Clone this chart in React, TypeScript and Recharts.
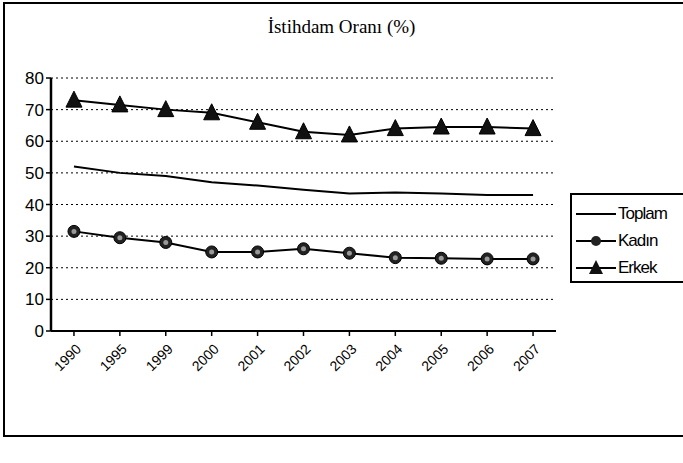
import React from "react";
import {
  LineChart,
  Line,
  XAxis,
  YAxis,
  CartesianGrid,
} from "recharts";

// İstihdam oranı, yıllara göre (%)
const years = ["1990", "1995", "1999", "2000", "2001", "2002", "2003", "2004", "2005", "2006", "2007"];
const toplam = [52, 50, 49, 47, 46, 44.7, 43.5, 43.8, 43.5, 43, 43];
const kadin = [31.5, 29.5, 28, 25, 25, 26, 24.6, 23.2, 23, 22.8, 22.8];
const erkek = [73, 71.5, 70, 69, 66, 63, 62, 64, 64.5, 64.5, 64];
const yTicks = [0, 10, 20, 30, 40, 50, 60, 70, 80];
const seriesNames = ["Toplam", "Kadın", "Erkek"];

const data = years.map((y, i) => ({
  year: y,
  Toplam: toplam[i],
  "Kadın": kadin[i],
  Erkek: erkek[i],
}));

const FONT = "'Liberation Sans', Arial, sans-serif";

function XTick({ x, y, payload }: any) {
  return (
    <g transform={`translate(${x + 8},${y + 12})`}>
      <text
        x={0}
        y={0}
        textAnchor="end"
        transform="rotate(-45)"
        fontFamily={FONT}
        fontSize={14}
        fill="#000"
      >
        {payload.value}
      </text>
    </g>
  );
}

function CircleDot({ cx, cy }: any) {
  if (cx == null || cy == null) return null;
  return (
    <g>
      <circle cx={cx} cy={cy} r={6} fill="#222" stroke="#000" strokeWidth={1} />
      <circle cx={cx} cy={cy} r={2.5} fill="#999" />
    </g>
  );
}

function TriangleDot({ cx, cy }: any) {
  if (cx == null || cy == null) return null;
  return (
    <path
      d={`M${cx},${cy - 9} L${cx + 8},${cy + 7} L${cx - 8},${cy + 7} Z`}
      fill="#111"
      stroke="#000"
      strokeWidth={1}
    />
  );
}

// legend drawn as a plain box on the right, like the Excel original
function LegendBox() {
  const marks = [null, "circle", "triangle"];
  return (
    <div
      style={{
        position: "absolute",
        left: 570,
        top: 193,
        width: 130,
        height: 90,
        border: "2px solid #000",
        background: "#fff",
        boxSizing: "border-box",
        paddingTop: 5,
      }}
    >
      {seriesNames.map((name, i) => (
        <div key={name} style={{ display: "flex", alignItems: "center", height: 27 }}>
          <svg width={46} height={20}>
            <line x1={4} y1={10} x2={44} y2={10} stroke="#000" strokeWidth={2} />
            {marks[i] === "circle" && <circle cx={24} cy={10} r={5} fill="#222" />}
            {marks[i] === "triangle" && <path d="M24,2 L31,16 L17,16 Z" fill="#111" />}
          </svg>
          <span style={{ fontFamily: FONT, fontSize: 17, color: "#000", letterSpacing: -1 }}>
            {name}
          </span>
        </div>
      ))}
    </div>
  );
}

export default function App() {
  return (
    <div style={{ position: "absolute", left: 0, top: 0, width: 683, height: 463, background: "#fff", overflow: "hidden" }}>
      <div
        style={{
          position: "absolute",
          left: 3,
          top: 2,
          width: 700,
          height: 435,
          border: "2px solid #000",
          boxSizing: "border-box",
        }}
      />
      <div
        style={{
          position: "absolute",
          left: 0,
          top: 16,
          width: 683,
          textAlign: "center",
          fontFamily: "'Liberation Serif', 'Times New Roman', serif",
          fontSize: 19,
          color: "#000",
        }}
      >
        İstihdam Oranı (%)
      </div>
      <div style={{ position: "absolute", left: 0, top: 0 }}>
        <LineChart
          width={683}
          height={463}
          data={data}
          margin={{ top: 78, right: 127, bottom: 62, left: 11 }}
        >
          <CartesianGrid
            horizontal
            vertical={false}
            stroke="#000"
            strokeDasharray="2 3"
          />
          <XAxis
            dataKey="year"
            scale="band"
            interval={0}
            tick={<XTick />}
            tickLine={{ stroke: "#000", strokeWidth: 1.5 }}
            axisLine={{ stroke: "#000", strokeWidth: 2 }}
            tickSize={5}
            height={70}
          />
          <YAxis
            domain={[0, 80]}
            ticks={yTicks}
            interval={0}
            width={40}
            tick={{ fontFamily: FONT, fontSize: 17, fill: "#000" }}
            tickLine={{ stroke: "#000", strokeWidth: 1.5 }}
            axisLine={{ stroke: "#000", strokeWidth: 2.5 }}
            tickSize={5}
          />
          <YAxis
            yAxisId="frame"
            orientation="right"
            domain={[0, 80]}
            width={0}
            tick={false}
            tickLine={false}
            axisLine={{ stroke: "#000", strokeDasharray: "2 3" }}
          />
          <Line
            dataKey="Toplam"
            stroke="#000"
            strokeWidth={2}
            dot={false}
            isAnimationActive={false}
          />
          <Line
            dataKey="Kadın"
            stroke="#000"
            strokeWidth={2}
            dot={<CircleDot />}
            isAnimationActive={false}
          />
          <Line
            dataKey="Erkek"
            stroke="#000"
            strokeWidth={2}
            dot={<TriangleDot />}
            isAnimationActive={false}
          />
        </LineChart>
      </div>
      <LegendBox />
    </div>
  );
}
